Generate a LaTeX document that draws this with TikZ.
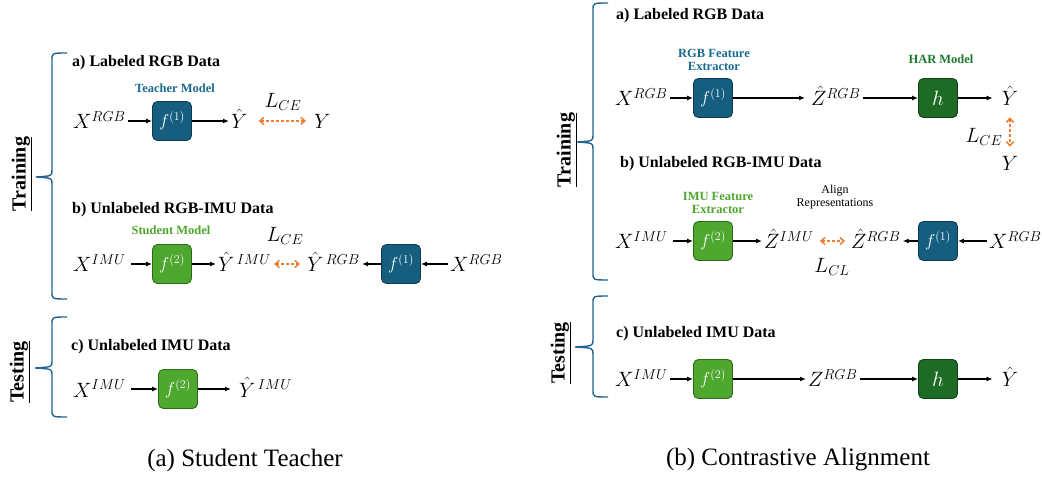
\documentclass[tikz,border=0pt]{standalone}
\usepackage{fontspec}
\setmainfont{Liberation Serif}
\usetikzlibrary{arrows.meta}
\DeclareMathSizes{20}{20}{14}{10}
\definecolor{bfill}{HTML}{165E80}
\definecolor{bline}{HTML}{0D3A50}
\definecolor{gfill}{HTML}{4EA72E}
\definecolor{gline}{HTML}{2C6A18}
\definecolor{dgfill}{HTML}{1E6B26}
\definecolor{dgline}{HTML}{0F4215}
\definecolor{tblue}{HTML}{1B6A8F}
\definecolor{tgreen}{HTML}{4EA72E}
\definecolor{tdgreen}{HTML}{1E7A2E}
\definecolor{orng}{HTML}{ED7D31}
\definecolor{brc}{HTML}{1F6391}
\tikzset{
  hd/.style={font=\bfseries\fontsize{16}{18}\selectfont, inner sep=0pt, anchor=west},
  lbl/.style={font=\bfseries\fontsize{12.5}{13.5}\selectfont, inner sep=0pt, align=center},
  nlbl/.style={font=\fontsize{12}{13.5}\selectfont, inner sep=0pt, align=center},
  mth/.style={font=\fontsize{20}{22}\selectfont, inner sep=2pt, text height=16pt, text depth=0pt, anchor=west},
  mthp/.style={font=\fontsize{20}{22}\selectfont, inner sep=0pt},
  mbox/.style={minimum width=39pt, minimum height=39pt, rounded corners=5pt, line width=0.9pt, text=white, font=\fontsize{17}{18}\selectfont, inner sep=0pt},
  bbox/.style={mbox, fill=bfill, draw=bline},
  gbox/.style={mbox, fill=gfill, draw=gline},
  dgbox/.style={mbox, fill=dgfill, draw=dgline, font=\fontsize{21}{22}\selectfont},
  arr/.style={-{Latex[length=6pt,width=5pt]}, line width=1.2pt},
  dsh/.style={{Straight Barb[length=4pt,width=7pt]}-{Straight Barb[length=4pt,width=7pt]}, line width=1.5pt, draw=orng, dash pattern=on 3pt off 2pt},
  brace/.style={draw=brc, line width=1.4pt},
  sidelbl/.style={font=\bfseries\fontsize{20}{22}\selectfont, rotate=90, inner sep=0pt},
  captxt/.style={font=\fontsize{25}{27}\selectfont, inner sep=0pt}
}
\begin{document}
\begin{tikzpicture}[x=1pt,y=-1pt]
\useasboundingbox[fill=white] (0,0) rectangle (1042,478);

% ================= LEFT PANEL =================
% braces
\draw[brace] (67,53) .. controls (52,53) .. (52,60) -- (52,170) .. controls (52,176) .. (36,177)
  .. controls (52,178) .. (52,184) -- (52,292) .. controls (52,299) .. (67,299);
\draw[brace] (67,317) .. controls (52,317) .. (52,324) -- (52,361) .. controls (52,367) .. (35,368)
  .. controls (52,369) .. (52,375) -- (52,410) .. controls (52,417) .. (67,417);
\node[sidelbl] (ltrain) at (22,174) {\underline{Training}};
\node[sidelbl] (ltest) at (20,372) {\underline{Testing}};

% a)
\node[hd] (lha) at (72,63) {a) Labeled RGB Data};
\node[lbl, text=tblue] (lteach) at (175,88) {Teacher Model};
\node[mth] (lxa) at (71,121) {$X^{RGB}$};
\node[bbox] (lf1a) at (172,121) {$f^{(1)}$};
\node[mth] (lya) at (229,121) {$\hat{Y}$};
\node[mth] (lyt) at (312,121) {$Y$};
\node[mthp] (llce1) at (283,102) {$L_{CE}$};
\draw[arr] (lxa.east) -- (lf1a.west);
\draw[arr] (lf1a.east) -- (lya.west);
\draw[dsh, shorten <=9pt, shorten >=6pt] (lya.east) -- (lyt.west);

% b)
\node[hd] (lhb) at (72,210) {b) Unlabeled RGB-IMU Data};
\node[lbl, text=tgreen] (lstud) at (171,230) {Student Model};
\node[mth] (lxb) at (71,264) {$X^{IMU}$};
\node[gbox] (lf2b) at (172,264) {$f^{(2)}$};
\node[mth] (lyib) at (216,264) {$\hat{Y}^{\,IMU}$};
\node[mth] (lyrb) at (305,264) {$\hat{Y}^{\,RGB}$};
\node[bbox] (lf1b) at (401,264) {$f^{(1)}$};
\node[mth] (lxrb) at (448,264) {$X^{RGB}$};
\node[mthp] (llce2) at (285,236) {$L_{CE}$};
\draw[arr, shorten <=3pt] (lxb.east) -- (lf2b.west);
\draw[arr] (lf2b.east) -- (lyib.west);
\draw[dsh, shorten <=1pt, shorten >=5pt] (lyib.east) -- (lyrb.west);
\draw[arr] (lf1b.west) -- (lyrb.east);
\draw[arr] (lxrb.west) -- (lf1b.east);

% c)
\node[hd] (lhc) at (71,347) {c) Unlabeled IMU Data};
\node[mth] (lxc) at (71,389) {$X^{IMU}$};
\node[gbox] (lf2c) at (178,389) {$f^{(2)}$};
\node[mth] (lyic) at (237,389) {$\hat{Y}^{\,IMU}$};
\draw[arr, shorten <=3pt] (lxc.east) -- (lf2c.west);
\draw[arr, shorten >=6pt] (lf2c.east) -- (lyic.west);

\node[captxt] (capa) at (245,460) {(a) Student Teacher};

% ================= RIGHT PANEL =================
\draw[brace] (608,3) .. controls (593,3) .. (593,10) -- (593,135) .. controls (593,141) .. (577,142)
  .. controls (593,143) .. (593,149) -- (593,273) .. controls (593,280) .. (608,280);
\draw[brace] (608,296) .. controls (593,296) .. (593,303) -- (593,340) .. controls (593,346) .. (575,347)
  .. controls (593,348) .. (593,354) -- (593,390) .. controls (593,397) .. (608,397);
\node[sidelbl] (rtrain) at (567,150) {\underline{Training}};
\node[sidelbl] (rtest) at (561,353) {\underline{Testing}};

% a)
\node[hd] (rha) at (616,16) {a) Labeled RGB Data};
\node[lbl, text=tblue] (rrgbfe) at (714,60) {RGB Feature\\Extractor};
\node[lbl, text=tdgreen] (rhar) at (941,59) {HAR Model};
\node[mth] (rxa) at (613,98) {$X^{RGB}$};
\node[bbox] (rf1a) at (713,98) {$f^{(1)}$};
\node[mth] (rza) at (809,98) {$\hat{Z}^{RGB}$};
\node[dgbox] (rha1) at (938,98) {$h$};
\node[mth, anchor=center] (rya) at (1010,98) {$\hat{Y}$};
\draw[arr] (rxa.east) -- (rf1a.west);
\draw[arr, shorten >=4pt] (rf1a.east) -- (rza.west);
\draw[arr] (rza.east) -- (rha1.west);
\draw[arr, shorten >=7pt] (rha1.east) -- (rya.west);
\node[mth, anchor=center] (ryt) at (1010,163) {$Y$};
\node[mthp] (rlce) at (984,137) {$L_{CE}$};
\draw[dsh, shorten <=9pt, shorten >=6pt] (rya.south) -- (ryt.north);

% b)
\node[hd] (rhb) at (620,164) {b) Unlabeled RGB-IMU Data};
\node[lbl, text=tgreen] (rimufe) at (718,203) {IMU Feature\\Extractor};
\node[nlbl] (ralign) at (835,197) {Align\\Representations};
\node[mth] (rxb) at (613,241) {$X^{IMU}$};
\node[gbox] (rf2b) at (713,241) {$f^{(2)}$};
\node[mth] (rzib) at (762,241) {$\hat{Z}^{IMU}$};
\node[mth] (rzrb) at (849,241) {$\hat{Z}^{RGB}$};
\node[bbox] (rf1b) at (938,241) {$f^{(1)}$};
\node[mth] (rxrb) at (987,241) {$X^{RGB}$};
\node[mthp] (rlcl) at (832,267) {$L_{CL}$};
\draw[arr, shorten <=3pt] (rxb.east) -- (rf2b.west);
\draw[arr] (rf2b.east) -- (rzib.west);
\draw[dsh, shorten <=4pt, shorten >=4pt] (rzib.east) -- (rzrb.west);
\draw[arr] (rf1b.west) -- (rzrb.east);
\draw[arr] (rxrb.west) -- (rf1b.east);

% c)
\node[hd] (rhc) at (616,334) {c) Unlabeled IMU Data};
\node[mth] (rxc) at (613,379) {$X^{IMU}$};
\node[gbox] (rf2c) at (713,379) {$f^{(2)}$};
\node[mth] (rzc) at (806,379) {$Z^{RGB}$};
\node[dgbox] (rhc1) at (938,379) {$h$};
\node[mth, anchor=center] (ryc) at (1010,379) {$\hat{Y}$};
\draw[arr] (rxc.east) -- (rf2c.west);
\draw[arr] (rf2c.east) -- (rzc.west);
\draw[arr] (rzc.east) -- (rhc1.west);
\draw[arr, shorten >=7pt] (rhc1.east) -- (ryc.west);

\node[captxt] (capb) at (798,460) {(b) Contrastive Alignment};
\end{tikzpicture}
\end{document}
